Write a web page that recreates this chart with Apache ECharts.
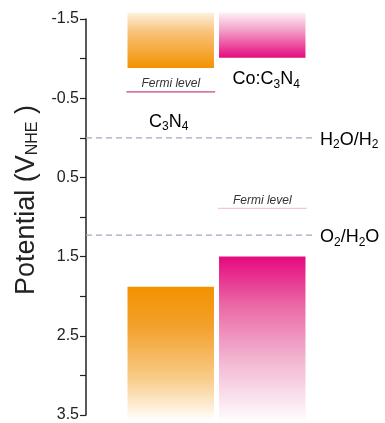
<!DOCTYPE html>
<html>
<head>
<meta charset="utf-8">
<script src="https://cdn.jsdelivr.net/npm/echarts@6/dist/echarts.min.js"></script>
<style>html,body{margin:0;padding:0;background:#fff}#c{width:385px;height:423px}</style>
</head>
<body>
<div id="c"></div>
<script>
// ---- data ----
const materials = ['C3N4', 'Co:C3N4'];
const cbTop = [-1.58, -1.58];        // conduction band region (top, faded)
const cbBottom = [-0.88, -1.01];     // conduction band edge
const vbTop = [1.88, 1.50];          // valence band edge
const vbBottom = [3.55, 3.55];       // valence band region (bottom, faded)
const fermiLevel = [-0.58, 0.89];
const redoxNames = ['H2O/H2', 'O2/H2O'];
const redoxValues = [0, 1.23];
const yTickLabels = [-1.5, -0.5, 0.5, 1.5, 2.5, 3.5];

const FONT = 'Liberation Sans, Arial, sans-serif';
const ORANGE = '#f39200';
const PINK = '#e5097f';

const richSub = function (fs) {
  return {
    n: { fontSize: fs, fontFamily: FONT, color: '#222', lineHeight: fs + 2 },
    s: { fontSize: Math.round(fs * 0.66), fontFamily: FONT, color: '#222', lineHeight: Math.round(fs * 0.66), padding: [Math.round(fs * 0.55), 0, 0, 0] }
  };
};
function subText(str) {
  let out = '';
  for (const ch of str) {
    if (/[0-9]/.test(ch)) out += '{s|' + ch + '}';
    else out += '{n|' + ch + '}';
  }
  return out;
}

const cbGrad = [
  new echarts.graphic.LinearGradient(0, 0, 0, 1, [
    { offset: 0, color: '#fef1de' }, { offset: 0.35, color: '#f8c27a' }, { offset: 1, color: ORANGE }]),
  new echarts.graphic.LinearGradient(0, 0, 0, 1, [
    { offset: 0, color: '#fdf0f6' }, { offset: 0.35, color: '#f3a9cc' }, { offset: 1, color: PINK }])
];
const vbGrad = [
  new echarts.graphic.LinearGradient(0, 0, 0, 1, [
    { offset: 0, color: ORANGE }, { offset: 0.3, color: '#f3a02c' }, { offset: 0.7, color: '#f8cd8a' }, { offset: 1, color: '#fffdf9' }]),
  new echarts.graphic.LinearGradient(0, 0, 0, 1, [
    { offset: 0, color: PINK }, { offset: 0.3, color: '#ea69a5' }, { offset: 0.65, color: '#f3b8d3' }, { offset: 1, color: '#fefafc' }])
];

function bandRender(grads) {
  return function (params, api) {
    const i = api.value(0);
    const p1 = api.coord([i, api.value(1)]);
    const p2 = api.coord([i, api.value(2)]);
    const w = api.size([1, 0])[0] * 0.945;
    return {
      type: 'rect',
      shape: { x: p1[0] - w / 2, y: Math.min(p1[1], p2[1]), width: w, height: Math.abs(p2[1] - p1[1]) },
      style: { fill: grads[i] }
    };
  };
}

const chart = echarts.init(document.getElementById('c'), null, { renderer: 'canvas' });
chart.setOption({
  animation: false,
  grid: { left: 125, right: 77, top: 19, bottom: 8 },
  xAxis: {
    type: 'category', data: materials, show: false, boundaryGap: true
  },
  yAxis: {
    type: 'value', inverse: true, min: -1.5, max: 3.5, interval: 0.5, offset: 39,
    splitLine: { show: false },
    axisLine: { show: true, lineStyle: { color: '#222', width: 1.5 } },
    axisTick: { show: true, inside: false, length: 6, lineStyle: { color: '#222', width: 1.2 } },
    axisLabel: {
      fontSize: 16, fontFamily: FONT, color: '#222', margin: 7,
      formatter: function (v) {
        const hit = yTickLabels.find(t => Math.abs(t - v) < 1e-6);
        return hit === undefined ? '' : String(hit);
      }
    },
    name: 'Potential (V{s|NHE} )', nameLocation: 'middle', nameGap: 45,
    nameTextStyle: {
      fontSize: 27, fontFamily: FONT, color: '#222', padding: [0, 0, 0, 34],
      rich: { s: { fontSize: 16, fontFamily: FONT, color: '#222', padding: [12, 0, 0, 0] } }
    }
  },
  series: [
    {
      type: 'custom', name: 'CB', clip: false,
      data: materials.map((m, i) => [i, cbTop[i], cbBottom[i]]),
      renderItem: bandRender(cbGrad)
    },
    {
      type: 'custom', name: 'VB', clip: false,
      data: materials.map((m, i) => [i, vbTop[i], vbBottom[i]]),
      renderItem: bandRender(vbGrad)
    },
    {
      type: 'custom', name: 'Fermi', clip: false,
      data: materials.map((m, i) => [i, fermiLevel[i]]),
      renderItem: function (params, api) {
        const i = api.value(0);
        const p = api.coord([i, api.value(1)]);
        const w = api.size([1, 0])[0] * 0.97;
        const colors = ['#c8428f', '#f4c6da'];
        return {
          type: 'group',
          children: [
            { type: 'line', shape: { x1: p[0] - w / 2, y1: p[1], x2: p[0] + w / 2, y2: p[1] }, style: { stroke: colors[i], lineWidth: 1.3 } },
            { type: 'text', x: p[0], y: p[1] - 2, style: { text: 'Fermi level', fontSize: 12, fontStyle: 'italic', fontFamily: FONT, fill: '#333', align: 'center', verticalAlign: 'bottom' } }
          ]
        };
      }
    },
    {
      type: 'custom', name: 'Redox', clip: false,
      data: redoxValues.map((v, i) => [0, v, i]),
      renderItem: function (params, api) {
        const p = api.coord([0, api.value(1)]);
        const cs = params.coordSys;
        const x1 = cs.x - 39, x2 = cs.x + cs.width + 8;
        const name = redoxNames[api.value(2)];
        return {
          type: 'group',
          children: [
            { type: 'line', shape: { x1: x1, y1: p[1], x2: x2, y2: p[1] }, style: { stroke: '#a4a6c6', lineWidth: 1.2, lineDash: [6, 4] } },
            { type: 'text', x: x2 + 4, y: p[1] + 2, style: { text: subText(name), rich: richSub(18), align: 'left', verticalAlign: 'middle' } }
          ]
        };
      }
    },
    {
      type: 'custom', name: 'Labels', clip: false,
      data: [[0, -0.2], [1, -0.74]],
      renderItem: function (params, api) {
        const i = api.value(0);
        const p = api.coord([i, api.value(1)]);
        return {
          type: 'text', x: p[0] + (i === 1 ? 4 : -2), y: p[1],
          style: { text: subText(materials[i]), rich: richSub(18), align: 'center', verticalAlign: 'middle' }
        };
      }
    }
  ]
});
</script>
</body>
</html>
